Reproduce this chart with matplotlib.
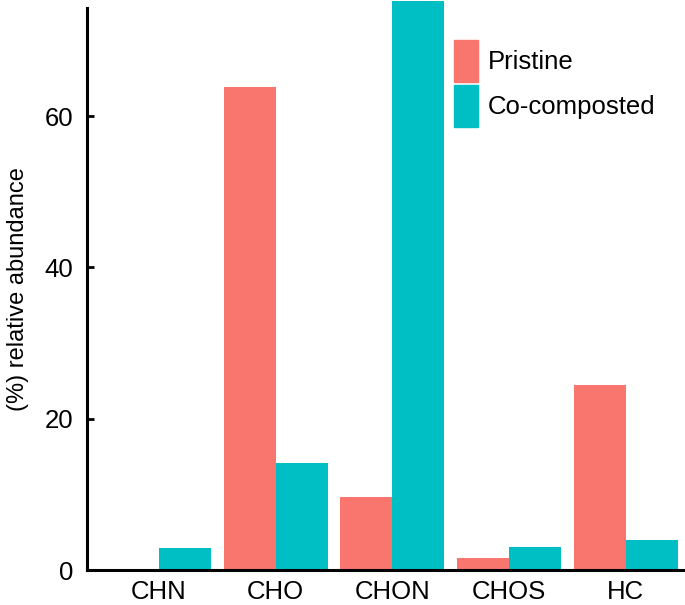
import numpy as np
from matplotlib import pyplot as plt
from matplotlib.patches import Patch

plt.rcParams['font.family'] = ['Liberation Sans', 'DejaVu Sans']

categories = ['CHN', 'CHO', 'CHON', 'CHOS', 'HC']
pristine = [0.0, 63.8, 9.6, 1.6, 24.4]
cocomposted = [2.9, 14.1, 75.2, 3.0, 4.0]
yticks = [0, 20, 40, 60]

pink = '#F8766D'
teal = '#00BFC4'

fig = plt.figure(figsize=(6.85, 6.05), dpi=100)
ax = fig.add_axes([87/685, 1-570/605, 1-87/685, (570-8)/605])

x = np.arange(len(categories))
w = 0.446
ax.bar(x - w/2, pristine, w, color=pink, linewidth=0, clip_on=False)
ax.bar(x + w/2, cocomposted, w, color=teal, linewidth=0, clip_on=False)

ax.set_xlim(-0.617, 4.507)
ax.set_ylim(0, 74.3)
ax.set_xticks(x)
ax.set_xticklabels(categories, fontsize=18.5)
ax.set_yticks(yticks)
ax.tick_params(axis='y', direction='in', length=5, width=2, labelsize=18.5, pad=10)
ax.tick_params(axis='x', length=0, pad=7)
ax.set_ylabel('(%) relative abundance', fontsize=17, labelpad=11)

for s in ['top', 'right']:
    ax.spines[s].set_visible(False)
ax.spines['left'].set_linewidth(2.2)
ax.spines['bottom'].set_linewidth(2.2)

handles = [Patch(color=pink, label='Pristine'), Patch(color=teal, label='Co-composted')]
fig.legend(handles=handles, loc='upper left', bbox_to_anchor=(454/685, 1-40/605),
           frameon=False, fontsize=18.5, handlelength=0.93, handleheight=2.14,
           labelspacing=0.1, handletextpad=0.4, borderpad=0, borderaxespad=0)

fig.savefig('out.png', dpi=100)
